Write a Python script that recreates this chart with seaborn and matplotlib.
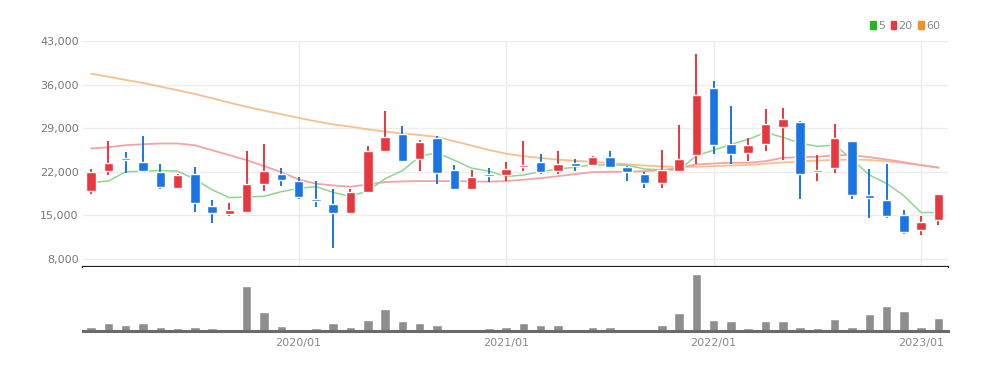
import numpy as np
import pandas as pd
import matplotlib
matplotlib.use("Agg")
import matplotlib.pyplot as plt
from matplotlib.patches import Patch
import seaborn as sns

# monthly candles 2019/01 .. 2023/02
months = [p.strftime("%Y/%m") for p in pd.period_range("2019-01", periods=50, freq="M")]

opens = [18900, 22200, 24100, 23600, 22000, 19400, 21600, 16500, 15200, 15600,
         20000, 21700, 20500, 17600, 16900, 15400, 18800, 25400, 28100, 24100,
         27500, 22300, 19300, 21600, 21400, 22800, 23500, 22100, 23400, 23100,
         24400, 22700, 21700, 20200, 22200, 24700, 35500, 26400, 25000, 26500,
         29200, 30000, 21900, 22600, 26900, 18300, 17400, 15000, 12600, 14200]
highs = [22500, 26900, 25100, 27700, 23200, 21700, 22800, 17400, 17000, 25300,
         26400, 22600, 21200, 20500, 19300, 19300, 26100, 31700, 29400, 27100,
         27700, 23100, 22300, 22600, 23600, 27000, 24900, 25400, 24100, 24500,
         25400, 22900, 22000, 25500, 29500, 40900, 36600, 32500, 27500, 32000,
         32200, 30100, 24700, 29600, 27000, 22500, 23200, 15800, 14900, 18500]
lows = [18400, 21500, 21800, 21900, 19200, 19300, 15600, 13800, 14900, 15500,
        18900, 19700, 17700, 16400, 9800, 15200, 18700, 25300, 23500, 22200,
        20100, 19200, 19200, 20300, 20500, 22100, 21600, 21600, 22200, 23000,
        22600, 20500, 19400, 19400, 22100, 23300, 24800, 23200, 23700, 25400,
        23900, 17700, 20500, 21800, 17600, 14600, 14500, 12000, 11900, 13500]
closes = [22000, 23400, 23900, 22100, 19600, 21500, 17000, 15300, 15800, 20100,
          22100, 20700, 17900, 17300, 15400, 18800, 25300, 27600, 23800, 26800,
          21800, 19300, 21200, 21400, 22400, 23100, 21900, 23300, 23000, 24300,
          22800, 21900, 20200, 22300, 24100, 34400, 26300, 24900, 26300, 29700,
          30400, 21700, 22300, 27400, 18200, 17800, 14900, 12400, 13900, 18400]

ma5 = [20300, 20500, 22000, 22100, 22200, 22100, 20820, 19100, 17840, 17940,
       18060, 18800, 19320, 19620, 18680, 18020, 18940, 20880, 22180, 24460,
       25060, 23860, 22580, 22100, 21220, 21480, 22000, 22420, 22740, 23120,
       23060, 23060, 22440, 22300, 22260, 24580, 25460, 26400, 27200, 28320,
       27520, 26600, 26080, 26300, 24000, 21480, 20120, 18140, 15440, 15480]
ma20 = [25730, 25940, 26260, 26420, 26540, 26540, 26260, 25460, 24660, 23860,
        22900, 21940, 20770, 20080, 19800, 19600, 19960, 20340, 20450, 20500,
        20500, 20500, 20450, 20400, 20500, 20720, 20970, 21300, 21620, 21940,
        22000, 22000, 22100, 22260, 22640, 23170, 23330, 23440, 23440, 23700,
        24240, 24340, 24390, 24660, 24660, 24340, 23970, 23540, 23060, 22640]
ma60 = [37750, 37250, 36750, 36260, 35680, 35090, 34500, 33800, 33100, 32420,
        31830, 31240, 30650, 30100, 29600, 29250, 28800, 28450, 28150, 27900,
        27600, 26900, 26200, 25500, 24900, 24500, 24200, 23950, 23750, 23600,
        23400, 23200, 23000, 22850, 22780, 22800, 22900, 23000, 23100, 23300,
        23500, 23650, 23800, 23900, 23950, 23900, 23700, 23400, 23050, 22700]

volume = [4.3, 7.3, 5.7, 8.0, 4.0, 2.7, 4.0, 2.7, 2.3, 43.3,
          18.0, 4.7, 2.3, 2.7, 8.0, 4.0, 10.7, 21.3, 9.7, 7.7,
          6.3, 2.3, 2.3, 2.7, 4.3, 7.3, 6.3, 6.3, 2.3, 4.0,
          4.0, 2.3, 1.3, 6.3, 17.3, 55.0, 10.7, 9.7, 2.7, 9.7,
          9.7, 4.3, 2.7, 11.3, 4.0, 16.7, 24.0, 19.7, 4.0, 12.7]

year_ticks = ["2020/01", "2021/01", "2022/01", "2023/01"]
y_ticks = [8000, 15000, 22000, 29000, 36000, 43000]

RED = "#e8383e"
BLUE = "#1a74e6"

sns.set_style("white")
plt.rcParams["font.family"] = ["Liberation Sans Narrow", "DejaVu Sans"]

df = pd.DataFrame({"month": months, "open": opens, "high": highs, "low": lows,
                   "close": closes, "ma5": ma5, "ma20": ma20, "ma60": ma60,
                   "volume": volume})
df["x"] = np.arange(len(df))
df["up"] = df["close"] >= df["open"]
df["color"] = np.where(df["up"], RED, BLUE)

fig = plt.figure(figsize=(10.02, 3.71), dpi=100)
ax = fig.add_axes([0.0828, 0.2803, 0.8633, 0.6092])
axv = fig.add_axes([0.0828, 0.1078, 0.8633, 0.1725], sharex=ax)

# grid
for y in y_ticks:
    ax.axhline(y, color="#ececec", lw=1, zorder=0)
tick_x = [months.index(t) for t in year_ticks]
for x in tick_x:
    ax.axvline(x, color="#ececec", lw=1, zorder=0)

# moving averages
sns.lineplot(data=df, x="x", y="ma60", ax=ax, color="#f7c08f", lw=1.3, zorder=2)
sns.lineplot(data=df, x="x", y="ma20", ax=ax, color="#f4a3a6", lw=1.3, zorder=2)
sns.lineplot(data=df, x="x", y="ma5", ax=ax, color="#8fd68f", lw=1.1, zorder=2)

# candles
ax.vlines(df["x"], df["low"], df["high"], colors=df["color"], lw=1.4, zorder=3)
body_h = np.abs(df["close"] - df["open"])
body_h = np.maximum(body_h, 320)
body_low = (df["open"] + df["close"]) / 2 - body_h / 2
body_low = np.where(np.abs(df["close"] - df["open"]) >= 320,
                    np.minimum(df["open"], df["close"]), body_low)
ax.bar(df["x"], body_h, bottom=body_low, width=0.55, color=df["color"], zorder=4)

ax.set_xlim(-0.47, 49.55)
ax.set_ylim(6700, 43000)
ax.set_yticks(y_ticks)
ax.set_yticklabels([f"{v:,}" for v in y_ticks], color="#777777", fontsize=8)
ax.tick_params(axis="y", length=0, pad=3)
ax.tick_params(axis="x", length=0, labelbottom=False)
ax.set_xlabel("")
ax.set_ylabel("")
for s in ["top", "right", "left"]:
    ax.spines[s].set_visible(False)
ax.spines["bottom"].set_color("#222222")
ax.spines["bottom"].set_linewidth(1.6)

# volume
sns.barplot(data=df, x="x", y="volume", ax=axv, native_scale=True,
            color="#8e8e8e", saturation=1, width=0.55, zorder=2)
axv.set_ylim(0, 62)
axv.set_yticks([])
axv.set_xticks(tick_x)
axv.set_xticklabels(year_ticks, color="#888888", fontsize=8)
axv.tick_params(axis="x", length=4, width=1, color="#444444", direction="inout", pad=3)
axv.set_xlabel("")
axv.set_ylabel("")
for s in ["top", "right", "left"]:
    axv.spines[s].set_visible(False)
axv.spines["bottom"].set_color("#6a6a6a")
axv.spines["bottom"].set_linewidth(2.2)
axv.set_xlim(-0.47, 49.55)

handles = [Patch(color="#22b822", label="5"),
           Patch(color="#e8383e", label="20"),
           Patch(color="#f0902e", label="60")]
leg = fig.legend(handles=handles, loc="center right", bbox_to_anchor=(0.948, 0.93),
                 ncol=3, frameon=False, fontsize=8, handlelength=0.5, handleheight=0.8,
                 handletextpad=0.2, columnspacing=0.5)
for t in leg.get_texts():
    t.set_color("#888888")

fig.savefig("out.png", dpi=100)
